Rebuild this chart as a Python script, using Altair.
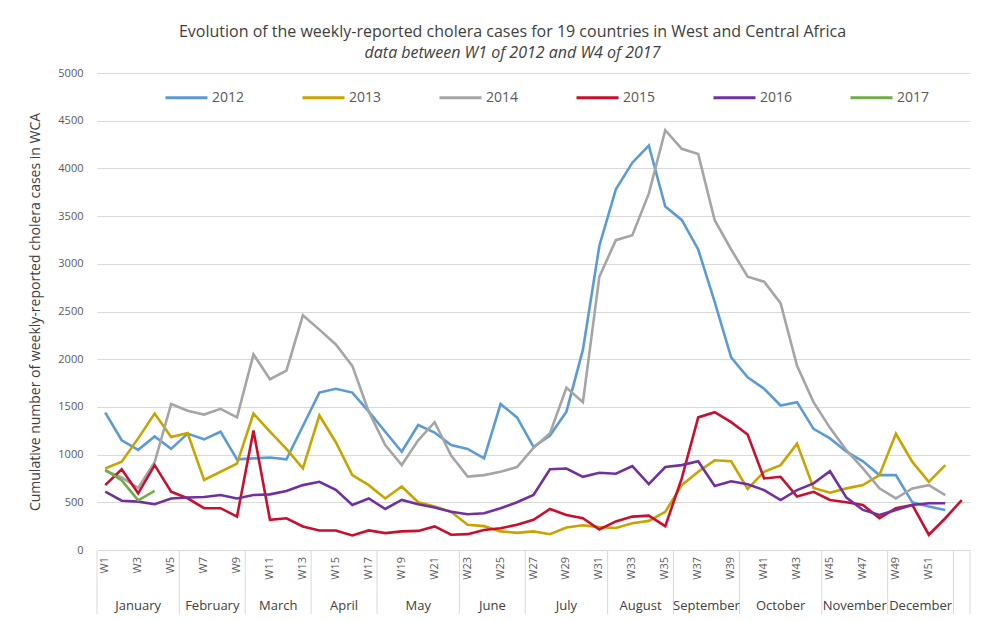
import altair as alt
import pandas as pd

years = ["2012", "2013", "2014", "2015", "2016", "2017"]
colors = ["#5B9BD5", "#C9A300", "#A5A5A5", "#C8102E", "#7030A0", "#70AD47"]

y2012 = [1440, 1150, 1050, 1190, 1060, 1220, 1160, 1240, 950, 960, 970, 950, 1300, 1650, 1690, 1650,
         1450, 1240, 1030, 1310, 1230, 1100, 1060, 960, 1530, 1390, 1080, 1200, 1450, 2100, 3190, 3780,
         4060, 4240, 3600, 3460, 3150, 2600, 2020, 1810, 1690, 1515, 1550, 1270, 1170, 1030, 930, 785,
         785, 500, 455, 420]
y2013 = [855, 925, 1170, 1430, 1185, 1225, 735, 820, 905, 1430, 1240, 1060, 855, 1410, 1130, 785,
         680, 540, 665, 500, 455, 400, 265, 250, 195, 180, 195, 165, 235, 260, 240, 230, 280, 305, 400,
         680, 820, 940, 930, 640, 820, 890, 1115, 650, 600, 646, 680, 785, 1218, 923, 715, 890]
y2014 = [830, 760, 650, 920, 1530, 1460, 1420, 1480, 1390, 2050, 1790, 1880, 2460, 2310, 2155, 1930,
         1450, 1100, 890, 1150, 1340, 990, 770, 785, 820, 870, 1070, 1225, 1700, 1550, 2865, 3248, 3300,
         3735, 4400, 4205, 4150, 3457, 3150, 2865, 2813, 2587, 1930, 1550, 1280, 1045, 855, 646, 541,
         646, 680, 576]
y2015 = [680, 847, 594, 889, 611, 542, 438, 438, 350, 1253, 316, 333, 247, 205, 205, 153, 205, 177,
         195, 200, 247, 160, 166, 210, 228, 264, 316, 430, 367, 333, 215, 300, 350, 360, 250, 750, 1390,
         1445, 1340, 1210, 750, 767, 560, 610, 524, 500, 472, 333, 437, 472, 160, 333, 524]
y2016 = [611, 517, 507, 480, 540, 550, 555, 576, 540, 576, 583, 618, 680, 715, 630, 472, 540, 430,
         525, 480, 445, 400, 375, 385, 438, 500, 576, 847, 854, 767, 810, 800, 880, 690, 870, 890, 930,
         670, 720, 690, 628, 524, 628, 698, 826, 549, 420, 368, 420, 472, 490, 490]
y2017 = [840, 730, 520, 620]

week_labels = ["W%d" % w for w in range(1, 52, 2)]
week_label_pos = list(range(1, 52, 2))

months = ["January", "February", "March", "April", "May", "June", "July", "August",
          "September", "October", "November", "December"]
month_start = [1, 6, 10, 14, 18, 23, 27, 32, 36, 40, 45, 49]
month_end = [5, 9, 13, 17, 22, 26, 31, 35, 39, 44, 48, 52]

series = [y2012, y2013, y2014, y2015, y2016, y2017]
rows = []
for yr, vals in zip(years, series):
    for i, v in enumerate(vals):
        rows.append({"year": yr, "week": i + 1, "cases": v})
df = pd.DataFrame(rows)

wdf = pd.DataFrame({"label": week_labels, "week": week_label_pos})
mdf = pd.DataFrame({"month": months,
                    "mid": [(s + e) / 2 for s, e in zip(month_start, month_end)]})
bounds = [s - 0.5 for s in month_start] + [52.5, 53.5]
bdf = pd.DataFrame({"b": bounds})

W, H = 873, 477
FONT = "Open Sans"

xscale = alt.Scale(domain=[0.5, 53.5], nice=False, zero=False)
xaxis = alt.Axis(labels=False, ticks=False, domain=False, grid=False, title=None)

lines = alt.Chart(df).mark_line(strokeWidth=2.6).encode(
    x=alt.X("week:Q", scale=xscale, axis=xaxis),
    y=alt.Y("cases:Q", scale=alt.Scale(domain=[0, 5000], nice=False),
            axis=alt.Axis(values=list(range(0, 5001, 500)), format="d", grid=True,
                          gridColor="#d9d9d9", domain=False, ticks=False, labelPadding=14,
                          labelFontSize=11, labelColor="#595959",
                          title="Cumulative number of weekly-reported cholera cases in WCA",
                          titleFontSize=14, titleFontWeight="normal", titleColor="#404040",
                          titlePadding=15)),
    color=alt.Color("year:N", scale=alt.Scale(domain=years, range=colors),
                    legend=alt.Legend(orient="none", legendX=67, legendY=2,
                                      direction="horizontal", title=None,
                                      symbolType="stroke", symbolStrokeWidth=3,
                                      symbolSize=1764, labelFontSize=14,
                                      labelColor="#595959", columnPadding=51,
                                      labelOffset=3)),
    detail="year:N",
)

seps = alt.Chart(bdf).mark_rule(color="#d9d9d9", strokeWidth=1).encode(
    x=alt.X("b:Q", scale=xscale, axis=xaxis),
    y=alt.value(H + 1),
    y2=alt.value(H + 72),
)

wtext = alt.Chart(wdf).mark_text(fontSize=11, color="#595959", font=FONT, angle=270,
                                 align="right", baseline="middle").encode(
    x=alt.X("week:Q", scale=xscale, axis=xaxis),
    y=alt.value(H + 7),
    text="label:N",
)

mtext = alt.Chart(mdf).mark_text(fontSize=13, color="#404040", font=FONT, baseline="middle").encode(
    x=alt.X("mid:Q", scale=xscale, axis=xaxis),
    y=alt.value(H + 56),
    text="month:N",
)

chart = alt.layer(seps, lines, wtext, mtext).properties(
    width=W, height=H,
    padding={"left": 89, "top": 65, "right": 26, "bottom": 64},
    autosize=alt.AutoSizeParams(type="none"),
    title=alt.TitleParams(
        text="Evolution of the weekly-reported cholera cases for 19 countries in West and Central Africa",
        subtitle="data between W1 of 2012 and W4 of 2017",
        fontSize=16, subtitleFontSize=16, subtitleFontStyle="italic",
        font=FONT, subtitleFont=FONT, color="#404040", subtitleColor="#404040",
        fontWeight="normal", anchor="middle", dx=-21, offset=6, subtitlePadding=5),
).configure(font=FONT).configure_view(stroke=None)

chart.save("out.html", embed_options={"renderer": "svg", "actions": False})
